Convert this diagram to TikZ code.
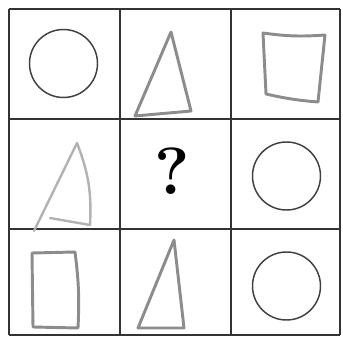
\documentclass[tikz,border=0pt]{standalone}
\usepackage{amsmath}
\usepackage{amssymb}

\begin{document}
\begin{tikzpicture}[x=0.75pt, y=-0.75pt,
        gridline/.style={draw=black!80, line width=1.1pt},
        ring/.style={draw=black!75, line width=1.1pt},
        sketch/.style={draw=black!45, line width=2.2pt, line join=round, line cap=round},
        faint/.style={draw=black!30, line width=1.8pt, line join=round, line cap=round}]
        \useasboundingbox (0,0) rectangle (343,338);
        % the grid
        \foreach \x in {9,120,231,340}
            \draw [gridline] (\x,9) -- (\x,335);
        \foreach \y in {9,119,229,335}
            \draw [gridline] (9,\y) -- (340,\y);
        % top row
        \draw [ring] (63.5,63.5) circle (25.5pt);
        \draw [sketch] (171,32) -- (191,111) -- (135,116) -- cycle;
        \draw [sketch] (266,94) -- (263,33) to[bend right=6] (325,35) -- (318,102) to[bend left=4] cycle;
        % middle row
        \draw [faint] (77,143) -- (34,231);
        \draw [faint] (77,143) to[bend left=12] (90,225);
        \draw [faint] (50,218) -- (90,225);
        \node (ask) at (172,171) {\fontsize{50}{50}\selectfont\bfseries ?};
        \draw [ring] (286.5,176) circle (25.5pt);
        % bottom row
        \draw [sketch] (32,253) -- (75,252) to[bend left=5] (78,328) -- (33,327) -- cycle;
        \draw [sketch] (174,240) -- (184,328) -- (138,328) -- cycle;
        \draw [ring] (286.5,286) circle (25.5pt);
    \end{tikzpicture}
\end{document}
